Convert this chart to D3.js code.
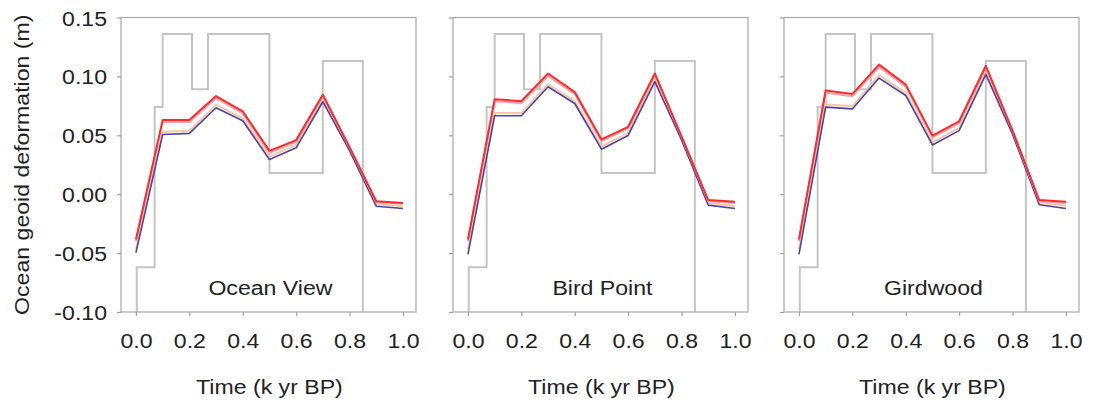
<!DOCTYPE html>
<html>
<head>
<meta charset="utf-8">
<script src="https://cdn.jsdelivr.net/npm/d3@7"></script>
<style>
  html, body { margin: 0; padding: 0; background: #fff; }
  svg { display: block; font-family: "Liberation Sans", Arial, sans-serif; }
</style>
</head>
<body>
<svg id="chart" width="1093" height="407"></svg>
<script>
// ---- data ----
const times = [0.0, 0.1, 0.2, 0.3, 0.4, 0.5, 0.6, 0.7, 0.8, 0.9, 1.0];
const sites = ["Ocean View", "Bird Point", "Girdwood"];
const xTicks = [0.0, 0.2, 0.4, 0.6, 0.8, 1.0];
const yTicks = [-0.10, -0.05, 0.00, 0.05, 0.10, 0.15];

const redOceanView   = [-0.0385, 0.0629, 0.0629, 0.0833, 0.0703, 0.0368, 0.0459, 0.0844, 0.0400, -0.0060, -0.0074];
const pinkOceanView  = [-0.0400, 0.0612, 0.0612, 0.0815, 0.0685, 0.0352, 0.0445, 0.0830, 0.0398, -0.0068, -0.0082];
const peachOceanView = [-0.0465, 0.0530, 0.0538, 0.0760, 0.0643, 0.0318, 0.0418, 0.0800, 0.0390, -0.0085, -0.0102];
const blueOceanView  = [-0.0496, 0.0507, 0.0516, 0.0734, 0.0623, 0.0295, 0.0394, 0.0785, 0.0370, -0.0102, -0.0122];

const redBirdPoint   = [-0.0385, 0.0807, 0.0790, 0.1025, 0.0867, 0.0465, 0.0572, 0.1025, 0.0490, -0.0050, -0.0065];
const pinkBirdPoint  = [-0.0400, 0.0790, 0.0772, 0.1005, 0.0850, 0.0450, 0.0558, 0.1010, 0.0488, -0.0058, -0.0074];
const peachBirdPoint = [-0.0470, 0.0690, 0.0690, 0.0935, 0.0790, 0.0405, 0.0520, 0.0975, 0.0478, -0.0075, -0.0100];
const blueBirdPoint  = [-0.0510, 0.0666, 0.0666, 0.0912, 0.0770, 0.0382, 0.0499, 0.0955, 0.0460, -0.0093, -0.0122];

const redGirdwood    = [-0.0384, 0.0880, 0.0850, 0.1100, 0.0930, 0.0497, 0.0619, 0.1090, 0.0540, -0.0050, -0.0065];
const pinkGirdwood   = [-0.0400, 0.0862, 0.0832, 0.1080, 0.0912, 0.0482, 0.0604, 0.1075, 0.0538, -0.0058, -0.0074];
const peachGirdwood  = [-0.0470, 0.0762, 0.0748, 0.1008, 0.0858, 0.0440, 0.0562, 0.1035, 0.0525, -0.0072, -0.0100];
const blueGirdwood   = [-0.0510, 0.0739, 0.0724, 0.0986, 0.0838, 0.0418, 0.0540, 0.1017, 0.0510, -0.0090, -0.0122];

// gray step curve (same for all panels)
const stepTimes  = [0.003, 0.003, 0.07, 0.10, 0.21, 0.27, 0.50, 0.70, 0.85];
const stepValues = [-0.10, -0.062, 0.074, 0.136, 0.089, 0.136, 0.018, 0.113, -0.10];

const panelSeries = [
  [peachOceanView, blueOceanView, pinkOceanView, redOceanView],
  [peachBirdPoint, blueBirdPoint, pinkBirdPoint, redBirdPoint],
  [peachGirdwood, blueGirdwood, pinkGirdwood, redGirdwood]
];
const seriesStyle = [
  {color: "#f5c9a6", width: 2},
  {color: "#4b44a8", width: 1.6},
  {color: "#f3a3ad", width: 2},
  {color: "#ff2a2a", width: 2}
];

// ---- layout ----
const svg = d3.select("#chart");
const panelLefts = [121, 453, 784];
const pw = 295, plotTop = 17.5, plotBottom = 312;
const x = d3.scaleLinear().domain([-0.056, 1.049]).range([0, pw]);
const y = d3.scaleLinear().domain([-0.10, 0.15]).range([plotBottom, plotTop]);
const textColor = "#222";
const fs = 21, sx = 1.1;

sites.forEach((site, i) => {
  const g = svg.append("g").attr("transform", `translate(${panelLefts[i]},0)`);

  // step line
  const step = d3.line().curve(d3.curveStepAfter)
    .x((d, k) => x(stepTimes[k])).y(d => y(d));
  g.append("path").attr("d", step(stepValues))
    .attr("fill", "none").attr("stroke", "#c4c4c4").attr("stroke-width", 2);

  // series
  const line = d3.line().x((d, k) => x(times[k])).y(d => y(d));
  panelSeries[i].forEach((vals, s) => {
    g.append("path").attr("d", line(vals))
      .attr("fill", "none")
      .attr("stroke", seriesStyle[s].color)
      .attr("stroke-width", seriesStyle[s].width)
      .attr("stroke-linejoin", "round");
  });

  // frame
  g.append("rect").attr("x", 0).attr("y", plotTop).attr("width", pw).attr("height", plotBottom - plotTop)
    .attr("fill", "none").attr("stroke", "#a8a8a8").attr("stroke-width", 1.2);

  // axes
  const xAxis = d3.axisBottom(x).tickValues(xTicks).tickSize(4).tickFormat(d3.format(".1f"));
  const xg = g.append("g").attr("transform", `translate(0,${plotBottom})`).call(xAxis);
  xg.select(".domain").remove();
  xg.selectAll(".tick line").attr("stroke", "#a0a0a0").attr("stroke-width", 1.2);
  xg.selectAll(".tick text").remove();
  xg.selectAll(".tick").append("text")
    .attr("transform", `translate(0,${348 - plotBottom}) scale(${sx},1)`)
    .attr("text-anchor", "middle")
    .attr("fill", textColor).attr("font-size", fs)
    .text(d => d3.format(".1f")(d));

  const yAxis = d3.axisLeft(y).tickValues(yTicks).tickSize(4);
  const yg = g.append("g").call(yAxis);
  yg.select(".domain").remove();
  yg.selectAll(".tick line").attr("stroke", "#a0a0a0").attr("stroke-width", 1.2);
  yg.selectAll(".tick text").remove();
  if (i === 0) {
    yg.selectAll(".tick").append("text")
      .attr("transform", `translate(-14,7.5) scale(${sx},1)`)
      .attr("text-anchor", "end")
      .attr("fill", textColor).attr("font-size", fs)
      .text(d => d3.format(".2f")(d).replace("\u2212", "-"));
  }

  // site label
  g.append("text")
    .attr("transform", `translate(${x(0.5) + 1},295) scale(${sx},1)`)
    .attr("text-anchor", "middle").attr("fill", textColor).attr("font-size", fs)
    .text(site);

  // x title
  g.append("text")
    .attr("transform", `translate(${x(0.5)},394) scale(${sx},1)`)
    .attr("text-anchor", "middle").attr("fill", textColor).attr("font-size", fs)
    .text("Time (k yr BP)");
});

// y title
svg.append("text")
  .attr("transform", `translate(29,${(plotTop + plotBottom) / 2}) rotate(-90) scale(${sx},1)`)
  .attr("text-anchor", "middle").attr("fill", textColor).attr("font-size", fs)
  .text("Ocean geoid deformation (m)");
</script>
</body>
</html>
